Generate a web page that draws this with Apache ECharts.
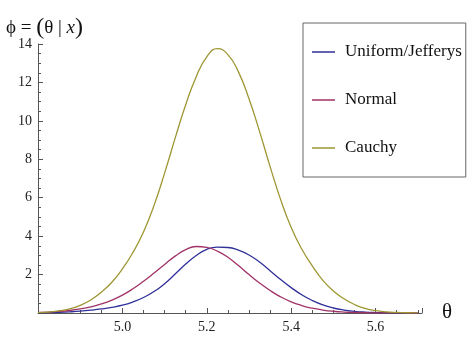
<!DOCTYPE html>
<html>
<head>
<meta charset="utf-8">
<script src="https://cdn.jsdelivr.net/npm/echarts@6/dist/echarts.min.js"></script>
<style>html,body{margin:0;padding:0;background:#fff}#c{width:474px;height:350px}</style>
</head>
<body>
<div id="c"></div>
<script>
const seriesNames = ['Uniform/Jefferys', 'Normal', 'Cauchy'];
const thetaValues = [4.8,4.825,4.85,4.875,4.9,4.925,4.95,4.975,5.0,5.025,5.05,5.075,5.1,5.125,5.15,5.175,5.2,5.225,5.25,5.275,5.3,5.325,5.35,5.375,5.4,5.425,5.45,5.475,5.5,5.525,5.55,5.575,5.6,5.625,5.65,5.675,5.7];
const uniformValues = [0.01,0.02,0.035,0.06,0.095,0.145,0.21,0.295,0.405,0.575,0.805,1.115,1.525,2.025,2.545,2.995,3.315,3.43,3.41,3.27,3.02,2.65,2.2,1.74,1.32,0.95,0.65,0.42,0.26,0.155,0.088,0.047,0.024,0.012,0.006,0.003,0.001];
const normalValues = [0.03,0.05,0.08,0.13,0.21,0.32,0.47,0.67,0.93,1.26,1.65,2.08,2.53,2.96,3.3,3.46,3.41,3.22,2.9,2.47,2.0,1.56,1.17,0.84,0.58,0.39,0.25,0.155,0.09,0.05,0.027,0.014,0.007,0.004,0.002,0.001,0.0005];
const cauchyValues = [0.02,0.05,0.11,0.22,0.4,0.68,1.08,1.6,2.3,3.15,4.22,5.6,7.28,9.1,10.84,12.3,13.33,13.76,13.45,12.55,11.15,9.45,7.62,5.9,4.45,3.33,2.45,1.7,1.15,0.74,0.44,0.24,0.12,0.06,0.03,0.012,0.005];
const xTickLabels = ['5.0','5.2','5.4','5.6'];
const yTickLabels = ['2','4','6','8','10','12','14'];

const colors = ['#30309a', '#a03266', '#9e9633'];
const serif = 'Liberation Serif';
const valuesList = [uniformValues, normalValues, cauchyValues];

const chart = echarts.init(document.getElementById('c'), null, {renderer: 'canvas'});
const axisColor = '#555';
chart.setOption({
  animation: false,
  backgroundColor: '#fff',
  grid: {left: 38, right: 52, top: 44, bottom: 37, containLabel: false},
  xAxis: {
    type: 'value', min: 4.8, max: 5.71, interval: 0.2,
    axisLine: {show: true, onZero: false, lineStyle: {color: axisColor, width: 1}},
    axisTick: {show: true, inside: true, length: 5, lineStyle: {color: axisColor}},
    minorTick: {show: true, splitNumber: 4, length: 3, lineStyle: {color: axisColor}},
    splitLine: {show: false},
    axisLabel: {
      margin: 7, color: '#222', fontFamily: serif, fontSize: 14,
      showMinLabel: true, showMaxLabel: true,
      formatter: v => { const s = v.toFixed(1); return (xTickLabels.includes(s) && Math.abs(v - parseFloat(s)) < 1e-6) ? s : ''; }
    }
  },
  yAxis: {
    type: 'value', min: 0, max: 14, interval: 2,
    axisLine: {show: true, onZero: false, lineStyle: {color: axisColor, width: 1}},
    axisTick: {show: true, inside: true, length: 5, lineStyle: {color: axisColor}},
    minorTick: {show: true, splitNumber: 4, length: 3, lineStyle: {color: axisColor}},
    splitLine: {show: false},
    axisLabel: {
      margin: 6, color: '#222', fontFamily: serif, fontSize: 14,
      formatter: v => { const s = String(Math.round(v)); return yTickLabels.includes(s) ? s : ''; }
    }
  },
  legend: {
    orient: 'vertical', left: 303, top: 23,
    padding: [19, 4, 19, 9],
    borderColor: '#666', borderWidth: 1,
    itemWidth: 23, itemHeight: 1.5, itemGap: 28,
    textStyle: {color: '#111', fontFamily: serif, fontSize: 17, lineHeight: 20, padding: [0, 0, 0, 5]},
    data: seriesNames.map(n => ({name: n, icon: 'rect'}))
  },
  series: seriesNames.map((name, i) => ({
    name: name, type: 'line', smooth: true, showSymbol: false,
    color: colors[i],
    lineStyle: {color: colors[i], width: 1.3},
    data: thetaValues.map((x, j) => [x, valuesList[i][j]])
  })),
  graphic: [
    {
      type: 'text', left: 6, top: 16,
      style: {
        text: '{a|ϕ = }{p|(}{a|θ | }{i|x}{p|)}',
        rich: {
          a: {fontFamily: serif, fontSize: 19, fill: '#111'},
          i: {fontFamily: serif, fontSize: 19, fontStyle: 'italic', fill: '#111'},
          p: {fontFamily: serif, fontSize: 24, fill: '#111'}
        }
      }
    },
    {
      type: 'text', left: 442, top: 302,
      style: {text: 'θ', fontFamily: serif, fontSize: 21, fill: '#111'}
    }
  ]
});
</script>
</body>
</html>
